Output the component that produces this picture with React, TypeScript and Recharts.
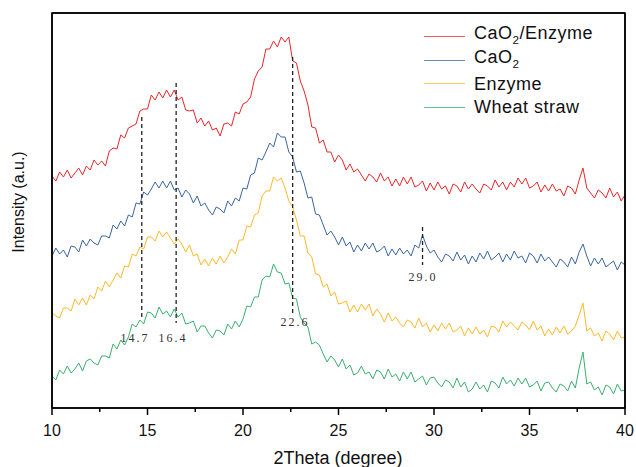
import React from "react";
import { LineChart, Line, XAxis, YAxis, ReferenceLine, ReferenceDot } from "recharts";

// 2Theta grid of the scan, 0.2 degree step
const twoTheta = Array.from({ length: 151 }, (_, i) => +(10 + i * 0.2).toFixed(1));

// intensities (a.u., curves already offset like in the figure)
const caO2Enzyme = [
  232, 227, 236, 231, 238, 230, 235, 240, 233, 242,
  238, 248, 243, 247, 242, 257, 260, 259, 273, 270,
  280, 282, 284, 297, 299, 299, 313, 308, 316, 310,
  318, 311, 318, 308, 311, 298, 297, 298, 285, 290,
  282, 287, 278, 280, 272, 284, 285, 282, 296, 294,
  304, 306, 311, 329, 337, 341, 359, 359, 367, 361,
  371, 366, 371, 347, 345, 327, 317, 303, 281, 280,
  265, 268, 256, 256, 246, 253, 248, 238, 244, 236,
  239, 233, 227, 234, 231, 226, 235, 227, 231, 222,
  229, 222, 231, 224, 231, 221, 223, 227, 217, 225,
  218, 226, 219, 222, 214, 224, 222, 216, 226, 219,
  224, 219, 215, 224, 222, 218, 228, 221, 226, 218,
  226, 221, 230, 224, 230, 220, 222, 226, 216, 223,
  217, 224, 217, 219, 212, 222, 220, 214, 228, 240,
  220, 215, 210, 218, 215, 210, 220, 211, 216, 207,
  213,
];
const caO2 = [
  152, 160, 154, 158, 151, 162, 161, 156, 168, 162,
  169, 165, 163, 172, 172, 170, 183, 179, 187, 182,
  193, 191, 205, 204, 216, 213, 219, 226, 220, 227,
  220, 227, 218, 220, 211, 218, 214, 205, 212, 202,
  205, 198, 193, 201, 199, 195, 207, 202, 210, 207,
  220, 219, 233, 235, 250, 248, 256, 265, 261, 275,
  271, 271, 256, 251, 236, 237, 225, 210, 211, 194,
  193, 183, 173, 177, 171, 163, 171, 162, 166, 156,
  163, 157, 165, 159, 165, 156, 158, 162, 152, 159,
  153, 160, 154, 158, 152, 163, 160, 173, 162, 155,
  158, 151, 146, 154, 152, 147, 156, 148, 153, 144,
  152, 146, 155, 149, 157, 148, 151, 155, 146, 154,
  148, 157, 150, 152, 145, 155, 152, 145, 154, 147,
  151, 146, 141, 149, 146, 141, 151, 144, 156, 164,
  152, 142, 150, 144, 150, 141, 144, 147, 138, 146,
  143,
];
const enzyme = [
  95, 92, 90, 100, 100, 97, 109, 103, 110, 103,
  113, 109, 121, 117, 127, 121, 128, 135, 130, 142,
  141, 154, 152, 161, 159, 171, 171, 167, 177, 171,
  176, 170, 164, 169, 164, 156, 163, 152, 154, 143,
  149, 142, 150, 144, 152, 145, 151, 159, 154, 168,
  168, 182, 181, 193, 195, 212, 217, 217, 231, 227,
  230, 220, 207, 201, 188, 172, 172, 155, 151, 134,
  133, 121, 124, 112, 116, 104, 105, 107, 96, 103,
  96, 104, 98, 104, 92, 99, 94, 86, 95, 87,
  91, 85, 81, 88, 86, 80, 90, 81, 85, 76,
  83, 77, 85, 79, 85, 76, 78, 82, 72, 80,
  74, 81, 74, 78, 71, 82, 81, 76, 87, 81,
  86, 82, 78, 86, 83, 78, 87, 78, 82, 72,
  79, 73, 81, 75, 82, 74, 77, 82, 93, 105,
  77, 80, 72, 75, 67, 77, 74, 68, 77, 70,
  71,
];
const wheatStraw = [
  32, 28, 38, 34, 42, 35, 39, 45, 37, 47,
  49, 45, 43, 52, 52, 50, 64, 59, 68, 63,
  71, 84, 81, 88, 84, 96, 95, 90, 101, 94,
  97, 91, 99, 91, 95, 84, 85, 87, 76, 82,
  82, 75, 70, 78, 77, 73, 84, 79, 87, 81,
  89, 102, 101, 111, 111, 128, 132, 131, 144, 136,
  135, 124, 125, 110, 109, 91, 85, 81, 64, 66,
  63, 54, 46, 52, 48, 41, 49, 39, 43, 33,
  35, 42, 34, 36, 29, 38, 36, 29, 39, 31,
  34, 27, 36, 29, 36, 26, 29, 32, 23, 30,
  31, 25, 21, 28, 26, 20, 30, 21, 26, 16,
  19, 26, 19, 23, 16, 27, 25, 20, 31, 24,
  28, 22, 30, 24, 30, 21, 23, 27, 17, 25,
  26, 20, 16, 24, 22, 17, 27, 20, 40, 56,
  24, 26, 18, 21, 13, 23, 21, 14, 24, 17,
  18,
];

const seriesNames = ["CaO2/Enzyme", "CaO2", "Enzyme", "Wheat straw"];
const seriesKeys = ["caO2Enzyme", "caO2", "enzyme", "wheatStraw"];
const seriesColors = ["#E8262B", "#3A659F", "#FDB927", "#3BAF6E"];

const xTicks = [10, 12.5, 15, 17.5, 20, 22.5, 25, 27.5, 30, 32.5, 35, 37.5, 40];
const majorTicks = [10, 15, 20, 25, 30, 35, 40];
const xDomain = [10, 40];
const yDomain = [0, 395];

// dashed peak markers: position, top / bottom of the dash, label text and label spot
const peakX = [14.7, 16.5, 22.6, 29.4];
const peakTop = [291, 325, 351, 181];
const peakBottom = [88, 85, 95, 143];
const peakLabels = ["14.7", "16.4", "22.6", "29.0"];
const peakLabelX = [14.35, 16.33, 22.72, 29.42];
const peakLabelY = [70, 70, 86, 131];

const data = twoTheta.map((x, i) => ({
  x,
  caO2Enzyme: caO2Enzyme[i],
  caO2: caO2[i],
  enzyme: enzyme[i],
  wheatStraw: wheatStraw[i],
}));

const margin = { top: 13, right: 11, bottom: 29, left: 52 };
const W = 636;
const H = 467;
const xAxisH = 30;
const plotW = W - margin.left - margin.right;
const plotH = H - margin.top - margin.bottom - xAxisH;

const XTick = (props: any) => {
  const { x, y, payload } = props;
  const major = majorTicks.includes(payload.value);
  return (
    <g>
      <line x1={x} x2={x} y1={y} y2={y + (major ? 7 : 4)} stroke="#000" strokeWidth={1.5} />
      {major && (
        <text x={x} y={y + 28} textAnchor="middle" fontSize={16} fill="#111" fontFamily="Liberation Sans, Arial, sans-serif">
          {payload.value}
        </text>
      )}
    </g>
  );
};

const withSub = (name: string) => {
  const parts = name.split("O2");
  if (parts.length === 1) return name;
  return (
    <>
      {parts[0]}O<sub style={{ fontSize: "0.65em" }}>2</sub>
      {parts[1]}
    </>
  );
};

export default function App() {
  return (
    <div style={{ position: "absolute", left: 0, top: 0, width: W, height: H, background: "#fff", overflow: "hidden" }}>
      <LineChart width={W} height={H} data={data} margin={margin}>
        <XAxis
          type="number"
          dataKey="x"
          domain={xDomain}
          ticks={xTicks}
          height={xAxisH}
          tickSize={0}
          tickMargin={0}
          tick={<XTick />}
          tickLine={false}
          axisLine={{ stroke: "#000", strokeWidth: 1.5 }}
          allowDataOverflow
        />
        <YAxis type="number" domain={yDomain} hide allowDataOverflow />
        {seriesKeys.map((k, i) => (
          <Line
            key={k}
            type="linear"
            dataKey={k}
            stroke={seriesColors[i]}
            strokeWidth={1}
            dot={false}
            isAnimationActive={false}
          />
        ))}
        {/* left, top and right sides of the plot box, drawn as segments inside the domain edges */}
        <ReferenceLine
          segment={[
            { x: xDomain[0], y: yDomain[0] },
            { x: xDomain[0], y: yDomain[1] },
          ]}
          stroke="#000"
          strokeWidth={1.5}
          ifOverflow="visible"
        />
        <ReferenceLine
          segment={[
            { x: xDomain[0], y: yDomain[1] },
            { x: xDomain[1], y: yDomain[1] },
          ]}
          stroke="#000"
          strokeWidth={1.5}
          ifOverflow="visible"
        />
        <ReferenceLine
          segment={[
            { x: xDomain[1], y: yDomain[1] },
            { x: xDomain[1], y: yDomain[0] },
          ]}
          stroke="#000"
          strokeWidth={1.5}
          ifOverflow="visible"
        />
        {peakX.map((px, i) => (
          <ReferenceLine
            key={"p" + i}
            segment={[
              { x: px, y: peakTop[i] },
              { x: px, y: peakBottom[i] },
            ]}
            stroke="#222"
            strokeWidth={1.3}
            strokeDasharray="4 3"
          />
        ))}
        {peakLabels.map((t, i) => (
          <ReferenceDot
            key={"l" + i}
            x={peakLabelX[i]}
            y={peakLabelY[i]}
            r={0}
            fill="none"
            stroke="none"
            label={{
              content: (p: any) => (
                <text
                  x={p.viewBox.x + (p.viewBox.width || 0) / 2}
                  y={p.viewBox.y + (p.viewBox.height || 0) / 2 + 4}
                  textAnchor="middle"
                  fontSize={12}
                  letterSpacing={2}
                  fill="#333"
                  fontFamily="Liberation Serif, DejaVu Serif, serif"
                >
                  {t}
                </text>
              ),
            }}
          />
        ))}
      </LineChart>
      {/* frame overlay as plain svg, in case the chart does not draw the box edges */}
      <svg
        width={W}
        height={H}
        style={{ position: "absolute", left: 0, top: 0, pointerEvents: "none" }}
      >
        <rect
          x={margin.left}
          y={margin.top}
          width={plotW}
          height={plotH}
          fill="none"
          stroke="#000"
          strokeWidth={1.5}
        />
      </svg>
      {/* axis titles */}
      <div
        style={{
          position: "absolute",
          left: 338,
          top: 458,
          transform: "translate(-50%, -50%)",
          fontFamily: "Liberation Sans, Arial, sans-serif",
          fontSize: 18,
          color: "#111",
          whiteSpace: "nowrap",
        }}
      >
        2Theta (degree)
      </div>
      <div
        style={{
          position: "absolute",
          left: 19,
          top: 202,
          transform: "translate(-50%, -50%) rotate(-90deg)",
          fontFamily: "Liberation Sans, Arial, sans-serif",
          fontSize: 16,
          color: "#111",
          whiteSpace: "nowrap",
        }}
      >
        Intensity (a.u.)
      </div>
      {/* legend */}
      <div style={{ position: "absolute", left: 424, top: 25, fontFamily: "Liberation Sans, Arial, sans-serif" }}>
        {seriesNames.map((n, i) => (
          <div key={n} style={{ display: "flex", alignItems: "center", height: 23.5 }}>
            <div style={{ width: 41, height: 0, borderTop: `1.2px solid ${seriesColors[i]}`, opacity: 0.75 }} />
            <span style={{ marginLeft: 9, fontSize: 18, letterSpacing: 0.5, color: "#111", lineHeight: "20px" }}>
              {withSub(n)}
            </span>
          </div>
        ))}
      </div>
    </div>
  );
}
